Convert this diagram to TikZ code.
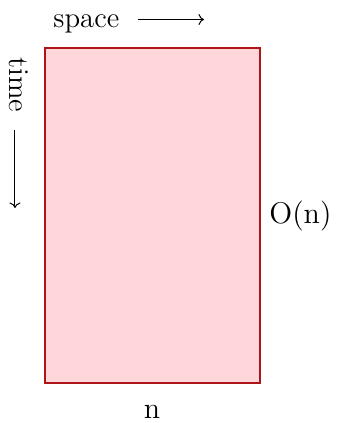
\documentclass[tikz,border=0pt]{standalone}
\usetikzlibrary{arrows.meta}
\definecolor{boxfill}{RGB}{255,214,217}
\definecolor{boxline}{RGB}{175,20,25}
\tikzset{
  lbl/.style={inner sep=0pt, font=\fontsize{11.5}{13}\selectfont},
  axisarrow/.style={line width=0.4pt, -{To[length=2.2pt,width=4.4pt]}},
  region/.style={fill=boxfill, draw=boxline, line width=0.8pt}
}
\begin{document}
\begin{tikzpicture}[x=0.4pt,y=-0.4pt]
\useasboundingbox (0,0) rectangle (338,423);
\node[region, minimum width=86pt, minimum height=134pt, inner sep=0pt, anchor=north west] (box) at (44,47) {};
\node[lbl, anchor=base west] (space) at (53,27) {space};
\coordinate (sa) at (138,19.5);
\coordinate (sb) at (204,19.5);
\draw[axisarrow] (sa) -- (sb);
\node[lbl, anchor=base west, rotate=-90] (time) at (9,57) {time};
\coordinate (ta) at (15,130);
\coordinate (tb) at (15,208);
\draw[axisarrow] (ta) -- (tb);
\node[lbl, anchor=west] (on) at (269,216) {$\mathrm{O}(\mathrm{n})$};
\node[lbl, anchor=base] (n) at (152,418) {$\mathrm{n}$};
\end{tikzpicture}
\end{document}
